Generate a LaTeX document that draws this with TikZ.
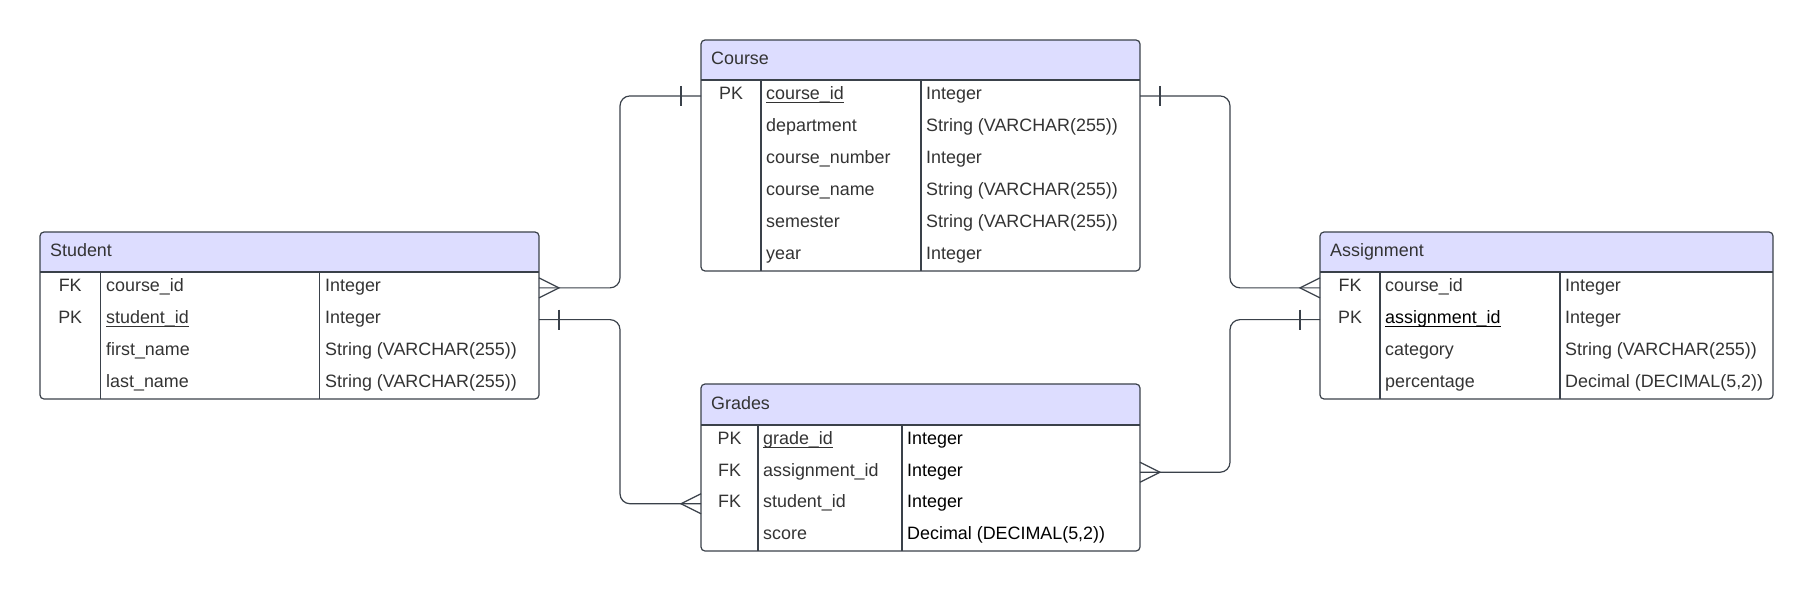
\documentclass[tikz,border=0pt]{standalone}
\usepackage{fontspec}
\setmainfont{Liberation Sans}
\usetikzlibrary{calc}

\definecolor{headfill}{RGB}{221,221,255}
\definecolor{edgecol}{RGB}{58,65,74}
\definecolor{txtcol}{RGB}{51,51,51}

% underlined key field, rule at the level of the underscore
\newcommand{\keyfield}[1]{\setbox0=\hbox{#1}\rlap{\rule[-0.2em]{\wd0}{0.065em}}\box0}

\tikzset{
  tbl/.style={draw=edgecol, line width=1.2pt, rounded corners=4pt},
  grid/.style={draw=edgecol, line width=1.2pt},
  cell/.style={inner sep=0pt, text=txtcol, font=\fontsize{17.9}{21}\selectfont, anchor=base west},
  keycell/.style={cell, anchor=base},
  title/.style={cell},
  rowbox/.style={inner sep=0pt, outer sep=0pt, anchor=west, minimum height=31pt},
  link/.style={draw=edgecol, line width=1.2pt, rounded corners=10pt},
  many/.pic={\draw[edgecol, line width=1.2pt] (0,-10) -- (-20,0) -- (0,10);},
  one/.pic={\draw[edgecol, line width=1.2pt] (-20,-10) -- (-20,10);},
}

\begin{document}
\begin{tikzpicture}[x=1pt, y=-1pt]
  \useasboundingbox (0,0) rectangle (1814,592);

  % Student
  \begin{scope}
    \clip[rounded corners=4pt] (40,232) rectangle (539,399);
    \fill[headfill] (40,232) rectangle (539,272);
  \end{scope}
  \draw[tbl] (40,232) rectangle (539,399);
  \draw[grid] (40,272) -- (539,272) (100.5,272) -- (100.5,399) (319.5,272) -- (319.5,399);
  \node[title] (stu) at (50,256) {Student};
  \foreach \k/\n/\t [count=\i] in {FK/course\_id/Integer, PK/\keyfield{student\_id}/Integer,
      {}/first\_name/String (VARCHAR(255)), {}/last\_name/String (VARCHAR(255))}{
    \pgfmathsetmacro\yc{272+31.75*(\i-0.5)}
    \node[rowbox, minimum width=499pt] (stu-\i) at (40,\yc) {};
    \node[keycell] at (70.2,\yc+4) {\k};
    \node[cell] at (106,\yc+4) {\n};
    \node[cell] at (325,\yc+4) {\t};
  }

  % Course
  \begin{scope}
    \clip[rounded corners=4pt] (701,40) rectangle (1140,271);
    \fill[headfill] (701,40) rectangle (1140,80);
  \end{scope}
  \draw[tbl] (701,40) rectangle (1140,271);
  \draw[grid] (701,80) -- (1140,80) (761,80) -- (761,271) (921,80) -- (921,271);
  \node[title] (crs) at (711,64) {Course};
  \foreach \k/\n/\t [count=\i] in {PK/\keyfield{course\_id}/Integer, {}/department/String (VARCHAR(255)),
      {}/course\_number/Integer, {}/course\_name/String (VARCHAR(255)),
      {}/semester/String (VARCHAR(255)), {}/year/Integer}{
    \pgfmathsetmacro\yc{80+31.83*(\i-0.5)}
    \node[rowbox, minimum width=439pt] (crs-\i) at (701,\yc) {};
    \node[keycell] at (731,\yc+4) {\k};
    \node[cell] at (766,\yc+4) {\n};
    \node[cell] at (926,\yc+4) {\t};
  }

  % Grades
  \begin{scope}
    \clip[rounded corners=4pt] (701,384) rectangle (1140,551);
    \fill[headfill] (701,384) rectangle (1140,425);
  \end{scope}
  \draw[tbl] (701,384) rectangle (1140,551);
  \draw[grid] (701,425) -- (1140,425) (758,425) -- (758,551) (902,425) -- (902,551);
  \node[title] (grd) at (711,409) {Grades};
  \foreach \k/\n/\t [count=\i] in {PK/\keyfield{grade\_id}/Integer, FK/assignment\_id/Integer,
      FK/student\_id/Integer, {}/score/{Decimal (DECIMAL(5,2))}}{
    \pgfmathsetmacro\yc{425+31.5*(\i-0.5)}
    \node[rowbox, minimum width=439pt] (grd-\i) at (701,\yc) {};
    \node[keycell] at (729.5,\yc+4) {\k};
    \node[cell] at (763,\yc+4) {\n};
    \node[cell, text=black] at (907,\yc+4) {\t};
  }

  % Assignment
  \begin{scope}
    \clip[rounded corners=4pt] (1320,232) rectangle (1773,399);
    \fill[headfill] (1320,232) rectangle (1773,272);
  \end{scope}
  \draw[tbl] (1320,232) rectangle (1773,399);
  \draw[grid] (1320,272) -- (1773,272) (1380,272) -- (1380,399) (1560,272) -- (1560,399);
  \node[title] (asg) at (1330,256) {Assignment};
  \foreach \k/\n/\t [count=\i] in {FK/course\_id/Integer, PK/{\color{black}\keyfield{assignment\_id}}/Integer,
      {}/category/String (VARCHAR(255)), {}/percentage/{Decimal (DECIMAL(5,2))}}{
    \pgfmathsetmacro\yc{272+31.75*(\i-0.5)}
    \node[rowbox, minimum width=453pt] (asg-\i) at (1320,\yc) {};
    \node[keycell] at (1350,\yc+4) {\k};
    \node[cell] at (1385,\yc+4) {\n};
    \node[cell] at (1565,\yc+4) {\t};
  }

  % Relationships
  \coordinate (jl) at (620,0);
  \coordinate (jr) at (1230,0);
  \draw[link] (stu-1.east) -- (stu-1.east -| jl) -- (jl |- crs-1.west) -- (crs-1.west);
  \draw[link] (stu-2.east) -- (stu-2.east -| jl) -- (jl |- grd-3.west) -- (grd-3.west);
  \draw[link] (crs-1.east) -- (crs-1.east -| jr) -- (jr |- asg-1.west) -- (asg-1.west);
  \draw[link] (asg-2.west) -- (asg-2.west -| jr) -- (jr |- grd-2.east) -- (grd-2.east);

  % Cardinality marks
  \pic[xscale=-1] at (stu-1.east) {many};
  \pic[xscale=-1] at (stu-2.east) {one};
  \pic at (crs-1.west) {one};
  \pic[xscale=-1] at (crs-1.east) {one};
  \pic at (grd-3.west) {many};
  \pic[xscale=-1] at (grd-2.east) {many};
  \pic at (asg-1.west) {many};
  \pic at (asg-2.west) {one};
\end{tikzpicture}
\end{document}
